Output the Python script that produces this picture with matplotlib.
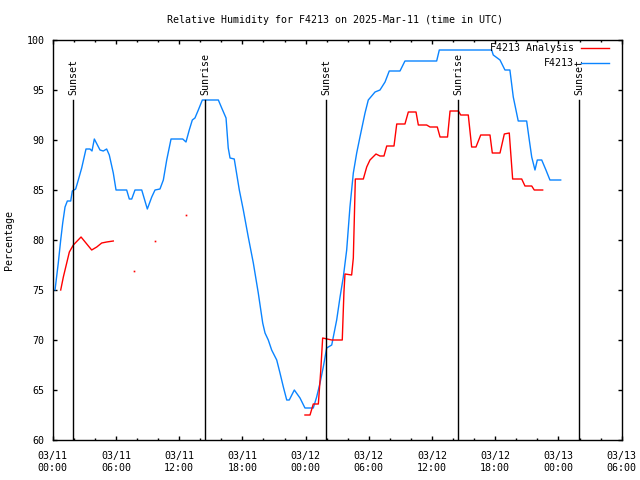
import datetime as dt
import numpy as np
import matplotlib
matplotlib.use("Agg")
import matplotlib.pyplot as plt
import matplotlib.dates as mdates
from matplotlib.lines import Line2D

# hours after 2025-03-11 00:00 UTC
obs_hours = [0.22, 0.53, 0.76, 0.95, 1.17, 1.39, 1.71, 1.86, 2.18, 2.43, 2.75, 3.16, 3.54, 3.73,
             3.95, 4.49, 4.80, 5.12, 5.37, 5.75, 6.01, 7.02, 7.27, 7.50, 7.81, 8.45, 8.98, 9.40,
             9.71, 10.18, 10.50, 10.82, 11.23, 12.34, 12.65, 12.96, 13.25, 13.50, 13.82, 14.20,
             15.72, 16.04, 16.45, 16.66, 16.83, 17.23, 17.71, 18.09, 18.56, 19.04, 19.51, 19.93,
             20.15, 20.46, 20.78, 21.26, 21.57, 21.89, 22.21, 22.45, 22.93, 23.47, 23.94, 24.73,
             25.05, 25.37, 25.68, 26.00, 26.48, 26.95, 27.27, 27.58, 27.90, 28.21, 28.53, 28.85,
             29.16, 29.64, 29.95, 30.59, 31.06, 31.54, 31.94, 32.96, 33.43, 36.44, 36.69, 41.66,
             41.81, 42.45, 42.92, 43.39, 43.71, 44.18, 44.98, 45.23, 45.46, 45.77, 45.99, 46.41,
             46.81, 47.19, 48.21]
obs_rh = [75, 77.7, 80, 81.7, 83.3, 83.9, 83.9, 84.9, 85.1, 86, 87.2, 89.1, 89.1, 88.9,
          90.1, 89, 88.9, 89.1, 88.5, 86.7, 85, 85, 84.1, 84.1, 85, 85, 83.1, 84.3,
          85, 85.1, 86, 88, 90.1, 90.1, 89.8, 91, 92, 92.2, 93, 94,
          94, 93.2, 92.2, 89.2, 88.2, 88.1, 85, 83, 80.3, 77.7, 74.7, 71.7,
          70.7, 70, 69, 68, 66.7, 65.3, 64, 64, 65, 64.2, 63.2, 63.2,
          64.3, 65.7, 67.3, 69.2, 69.5, 72, 74.3, 76.3, 79, 83.3, 86.7, 88.7,
          90.3, 92.7, 94, 94.8, 95, 95.8, 96.9, 96.9, 97.9, 97.9, 99, 99,
          98.5, 98, 97, 97, 94.3, 91.9, 91.9, 90, 88.3, 87, 88, 88,
          87, 86, 86]

# analysis series, None = missing
ana_hours = [0.76, 1.01, 1.33, 1.58, 1.96, 2.69, 3.70, 4.18, 4.65, 5.12, 5.75, 6.5,
             7.74, 8.5, 9.71, 11.0, 12.65, 13.5,
             23.94, 24.42, 24.73, 25.21, 25.43, 25.62, 26.48, 27.48, 27.64, 27.74, 28.37, 28.53,
             28.72, 29.48, 29.80, 30.11, 30.68, 31.06, 31.44, 31.70, 32.39, 32.65, 33.43, 33.75,
             34.48, 34.70, 35.49, 35.81, 36.50, 36.76, 37.47, 37.71, 38.50, 38.72, 39.44, 39.76,
             40.17, 40.62, 41.50, 41.72, 42.45, 42.86, 43.33, 43.65, 44.51, 44.82, 45.46, 45.70,
             46.50]
ana_rh = [75, 76.3, 77.7, 78.8, 79.5, 80.3, 79, 79.3, 79.7, 79.8, 79.9, None,
          76.9, None, 79.9, None, 82.5, None,
          62.5, 62.5, 63.6, 63.6, 66.8, 70.2, 70, 70, 74.8, 76.6, 76.5, 78.2,
          86.1, 86.1, 87.3, 88, 88.6, 88.4, 88.4, 89.4, 89.4, 91.6, 91.6, 92.8,
          92.8, 91.5, 91.5, 91.3, 91.3, 90.3, 90.3, 92.9, 92.9, 92.5, 92.5, 89.3,
          89.3, 90.5, 90.5, 88.7, 88.7, 90.6, 90.7, 86.1, 86.1, 85.4, 85.4, 85,
          85]

sun_hours = [1.93, 14.45, 25.94, 38.47, 49.95]
sun_labels = ["Sunset", "Sunrise", "Sunset", "Sunrise", "Sunset"]

base = dt.datetime(2025, 3, 11)
def to_time(hs):
    return [base + dt.timedelta(hours=h) for h in hs]

font = "DejaVu Sans Mono"
fs = 7.2
plt.rcParams["font.family"] = font
plt.rcParams["font.size"] = fs

fig = plt.figure(figsize=(6.4, 4.8), dpi=100)
ax = fig.add_axes([52.7 / 640, 1 - 440 / 480, (621.7 - 52.7) / 640, 400 / 480])

blue = "#0a84ff"
red = "#ff0000"

ax.plot(to_time(obs_hours), obs_rh, color=blue, lw=1.0)
ana = np.array([np.nan if v is None else v for v in ana_rh], dtype=float)
ana_t = to_time(ana_hours)
ax.plot(ana_t, ana, color=red, lw=1.0)
# isolated analysis values show up as single dots
for i, v in enumerate(ana):
    if np.isnan(v):
        continue
    prev_nan = i == 0 or np.isnan(ana[i - 1])
    next_nan = i == len(ana) - 1 or np.isnan(ana[i + 1])
    if prev_nan and next_nan:
        ax.plot([ana_t[i]], [v], marker="s", ms=1.2, mew=0, color=red, ls="none")

for h, lab in zip(sun_hours, sun_labels):
    t = to_time([h])[0]
    ax.plot([t, t], [60, 94], color="black", lw=1.0)
    ax.text(t, 94.5, lab, rotation=90, ha="center", va="bottom", fontsize=fs)

ax.set_xlim(base, base + dt.timedelta(hours=54))
ax.set_ylim(60, 100)
ax.xaxis.set_major_locator(mdates.HourLocator(byhour=[0, 6, 12, 18]))
ax.xaxis.set_minor_locator(mdates.HourLocator(interval=2))
ax.xaxis.set_major_formatter(mdates.DateFormatter("%m/%d\n%H:%M"))
ax.set_yticks(np.arange(60, 101, 5))
ax.tick_params(which="both", direction="in", top=True, right=True, width=1, labelsize=fs)
ax.tick_params(which="major", length=3)
ax.tick_params(which="minor", length=1.5)
ax.tick_params(axis="x", pad=8)
ax.tick_params(axis="y", pad=6)
for s in ax.spines.values():
    s.set_linewidth(1.0)

ax.set_ylabel("Percentage", fontsize=fs, labelpad=9)
fig.text(335 / 640, 1 - 20 / 480, "Relative Humidity for F4213 on 2025-Mar-11 (time in UTC)",
         ha="center", va="center", fontsize=fs)

# legend
for i, (lab, c) in enumerate([("F4213 Analysis", red), ("F4213", blue)]):
    y = 1 - (48 + 15 * i) / 480
    fig.text(574 / 640, y, lab, ha="right", va="center", fontsize=fs)
    fig.add_artist(Line2D([581 / 640, 609 / 640], [y, y], color=c, lw=1.0,
                          transform=fig.transFigure))

fig.savefig("out.png", dpi=100)
